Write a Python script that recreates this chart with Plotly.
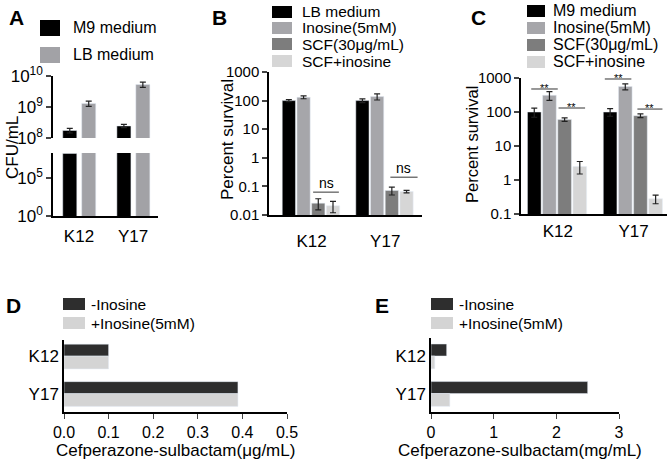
"""Five-panel figure: CFU counts, survival and MIC of K12 / Y17 with inosine."""

import math

import plotly.graph_objects as go

W, H = 671, 464
FONT = "Liberation Sans, Arial, sans-serif"

strains = ["K12", "Y17"]

# panel A
a_names = ["M9 medium", "LB medium"]
a_colors = ["#000000", "#a2a2a6"]
a_values = [[1.75e8, 2.45e8], [1.3e9, 5.3e9]]
a_errors = [[0.3e8, 0.3e8], [0.25e9, 1.0e9]]

# panel B
b_names = ["LB medium", "Inosine(5mM)", "SCF(30μg/mL)", "SCF+inosine"]
b_values = [[100, 100], [131, 138], [0.026, 0.072], [0.021, 0.066]]
b_errors = [[8, 15], [15, 33], [0.011, 0.022], [0.009, 0.007]]

# panel C
c_names = ["M9 medium", "Inosine(5mM)", "SCF(30μg/mL)", "SCF+inosine"]
c_values = [[100, 100], [310, 560], [60, 78], [2.5, 0.28]]
c_errors = [[30, 25], [90, 110], [7, 10], [1.0, 0.08]]

four_colors = ["#000000", "#a6a6aa", "#7d7d7d", "#d6d6d6"]

# panels D and E
de_names = ["-Inosine", "+Inosine(5mM)"]
de_colors = ["#2e2e2e", "#d4d4d4"]
d_values = [[0.1, 0.39], [0.1, 0.39]]
e_values = [[0.25, 2.5], [0.06, 0.3]]

log_ticks_b = [0.01, 0.1, 1, 10, 100, 1000]
log_ticks_c = [0.1, 1, 10, 100, 1000]


def px(x):
    return x / W


def py(y):
    return 1 - y / H


def base_axis(**kw):
    ax = dict(
        showline=True, linecolor="black", linewidth=1.5, showgrid=False,
        zeroline=False, ticks="", fixedrange=True,
        tickfont=dict(family=FONT, size=15, color="black"),
    )
    ax.update(kw)
    return ax


fig = go.Figure()

err_style = dict(type="data", color="#222222", thickness=1.2, width=3)

# A: broken log axis -> lower (x, y) and upper (x2, y2)
a_offsets = [-0.3, 0.05]
for i, name in enumerate(a_names):
    for xa, ya in (("x", "y"), ("x2", "y2")):
        fig.add_trace(go.Bar(
            x=strains, y=a_values[i], name=name, marker_color=a_colors[i],
            offset=a_offsets[i], width=0.26, xaxis=xa, yaxis=ya, showlegend=False,
            error_y=dict(array=a_errors[i], **err_style) if ya == "y2" else None,
        ))

# B and C
four_offsets = [-0.4, -0.2, 0.0, 0.2]
for names, values, errors, xa, ya in (
    (b_names, b_values, b_errors, "x3", "y3"),
    (c_names, c_values, c_errors, "x4", "y4"),
):
    for i, name in enumerate(names):
        fig.add_trace(go.Bar(
            x=strains, y=values[i], name=name, marker_color=four_colors[i],
            offset=four_offsets[i], width=0.18, xaxis=xa, yaxis=ya, showlegend=False,
            error_y=dict(array=errors[i], **err_style),
        ))

# D and E: horizontal bars
de_offsets = [-0.32, 0.0]
de_widths = [0.32, 0.34]
for values, xa, ya in ((d_values, "x5", "y5"), (e_values, "x6", "y6")):
    for i, name in enumerate(de_names):
        fig.add_trace(go.Bar(
            y=strains, x=values[i], name=name, orientation="h",
            marker_color=de_colors[i], offset=de_offsets[i], width=de_widths[i],
            xaxis=xa, yaxis=ya, showlegend=False,
        ))


def sup(e):
    return f"10<sup>{e}</sup>"


big = dict(family=FONT, size=17, color="black")

layout_axes = dict(
    xaxis=base_axis(domain=[px(53), px(158)], anchor="y", type="category",
                    range=[-0.48, 1.46], tickfont=big, ticklabelstandoff=4),
    yaxis=base_axis(domain=[py(216), py(153)], anchor="x", type="log", range=[0, 8.3],
                    tickvals=[1, 1e5], ticktext=[sup(0), sup(5)], ticks="outside",
                    ticklen=5, tickwidth=1.5, tickfont=big),
    xaxis2=base_axis(domain=[px(53), px(158)], anchor="y2", type="category",
                     range=[-0.48, 1.46], visible=False),
    yaxis2=base_axis(domain=[py(138), py(76)], anchor="x2", type="log", range=[8, 10],
                     tickvals=[1e8, 1e9, 1e10], ticktext=[sup(8), sup(9), sup(10)],
                     ticks="outside", ticklen=5, tickwidth=1.5, tickfont=big),
    xaxis3=base_axis(domain=[px(269), px(422)], anchor="y3", type="category",
                     range=[-0.58, 1.50], tickfont=big, ticklabelstandoff=10),
    yaxis3=base_axis(domain=[py(215), py(72)], anchor="x3", type="log", range=[-2, 3],
                     tickvals=log_ticks_b, ticktext=[f"{v:g}" for v in log_ticks_b],
                     ticks="outside", ticklen=5, tickwidth=1.5),
    xaxis4=base_axis(domain=[px(521), px(667)], anchor="y4", type="category",
                     range=[-0.485, 1.44], tickfont=big, ticklabelstandoff=1),
    yaxis4=base_axis(domain=[py(214), py(78)], anchor="x4", type="log", range=[-1, 3],
                     tickvals=log_ticks_c, ticktext=[f"{v:g}" for v in log_ticks_c],
                     ticks="outside", ticklen=5, tickwidth=1.5),
    xaxis5=base_axis(domain=[px(64), px(287)], anchor="y5", range=[0, 0.5], dtick=0.1,
                     tickformat=".1f", ticks="outside", ticklen=5, tickwidth=1.2,
                     tickfont=dict(family=FONT, size=16, color="black")),
    yaxis5=base_axis(domain=[py(412), py(340)], anchor="x5", type="category",
                     range=[1.49, -0.43], tickfont=big),
    xaxis6=base_axis(domain=[px(431), px(619)], anchor="y6", range=[0, 3], dtick=1,
                     ticks="outside", ticklen=5, tickwidth=1.2,
                     tickfont=dict(family=FONT, size=16, color="black")),
    yaxis6=base_axis(domain=[py(412), py(338)], anchor="x6", type="category",
                     range=[1.49, -0.48], tickfont=big),
)

shapes = []
annotations = []


def text(x, y, s, size, anchor="center", angle=0, bold=False):
    annotations.append(dict(
        x=px(x), y=py(y), xref="paper", yref="paper", text=f"<b>{s}</b>" if bold else s,
        showarrow=False, xanchor=anchor, yanchor="middle", textangle=angle,
        font=dict(family=FONT, size=size, color="black"),
    ))


def legend(x0, x1, text_x, rows, names, colors, h, size):
    for yc, name, color in zip(rows, names, colors):
        shapes.append(dict(type="rect", xref="paper", yref="paper", x0=px(x0), x1=px(x1),
                           y0=py(yc + h / 2), y1=py(yc - h / 2), fillcolor=color,
                           line=dict(width=0), layer="above"))
        text(text_x, yc, name, size, anchor="left")


# panel letters
for letter, x, y in (("A", 16, 17), ("B", 220, 17), ("C", 479, 17), ("D", 13, 305), ("E", 382, 305)):
    text(x, y, letter, 21, bold=True)

# legends
legend(40, 60, 71, [28, 55], a_names, a_colors, 16, 16)
legend(272, 292, 300, [12, 28, 44, 61], b_names, four_colors, 12, 15.5)
legend(527, 545, 551, [11, 28, 45, 62], c_names, four_colors, 12, 16)
legend(63, 85, 89, [304, 323], de_names, de_colors, 12, 15.5)
legend(431, 453, 457, [304, 323], de_names, de_colors, 12, 15.5)

# axis titles
text(12, 148, "CFU/mL", 17, angle=-90)
text(227, 140, "Percent survival", 17, angle=-90)
text(472, 145, "Percent survival", 16.5, angle=-90)
text(175, 450, "Cefperazone-sulbactam(μg/mL)", 17)
text(520, 450, "Cefperazone-sulbactam(mg/mL)", 17)

# significance marks: (xaxis, yaxis, x0, x1, y, label)
sig_marks = [
    ("x3", "y3", 0.02, 0.37, 0.063, "ns"),
    ("x3", "y3", 1.07, 1.44, 0.21, "ns"),
    ("x4", "y4", -0.35, 0.0, 475, "**"),
    ("x4", "y4", 0.01, 0.36, 131, "**"),
    ("x4", "y4", 0.62, 0.97, 935, "**"),
    ("x4", "y4", 1.05, 1.38, 122, "**"),
]
for xa, ya, x0, x1, yv, label in sig_marks:
    shapes.append(dict(type="line", xref=xa, yref=ya, x0=x0, x1=x1, y0=yv, y1=yv,
                       line=dict(color="#333333", width=1)))
    is_ns = label == "ns"
    annotations.append(dict(
        x=(x0 + x1) / 2, y=math.log10(yv), xref=xa, yref=ya, text=label, showarrow=False,
        yanchor="bottom" if is_ns else "middle", yshift=-1 if is_ns else 1,
        font=dict(family=FONT, size=14 if is_ns else 11, color="black"),
    ))

fig.update_layout(
    **layout_axes,
    width=W, height=H,
    margin=dict(l=0, r=0, t=0, b=0, autoexpand=False),
    paper_bgcolor="white", plot_bgcolor="white",
    barmode="overlay",
    showlegend=False,
    shapes=shapes,
    annotations=annotations,
    font=dict(family=FONT, color="black"),
)

# drop the default 8px body margin so the figure fills the window exactly
fig.write_html(
    "out.html",
    config={"displayModeBar": False},
    post_script="document.body.style.margin = '0';",
)
